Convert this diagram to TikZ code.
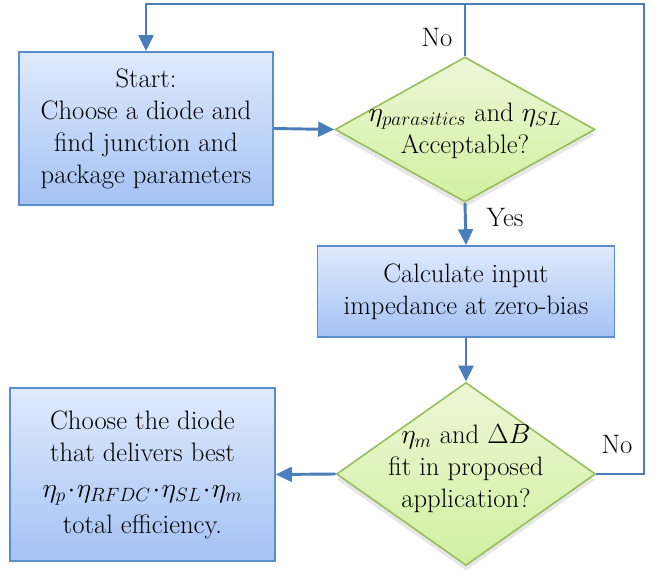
\documentclass[tikz,border=0pt]{standalone}
\usetikzlibrary{shapes.geometric,arrows.meta,shadows}
\definecolor{boxline}{RGB}{91,140,205}
\definecolor{boxtop}{RGB}{224,234,252}
\definecolor{boxbot}{RGB}{164,194,244}
\definecolor{dialine}{RGB}{150,190,90}
\definecolor{diatop}{RGB}{236,247,214}
\definecolor{diabot}{RGB}{210,240,160}
\definecolor{wire}{RGB}{74,126,187}
\begin{document}
\begin{tikzpicture}[x=0.75pt,y=-0.75pt]
            \tikzstyle{every node}=[font=\fontsize{20}{24}\selectfont]
            \tikzstyle{procbox}=[draw=boxline, line width=1.2pt, top color=boxtop, bottom color=boxbot, align=center, inner sep=0pt]
            \tikzstyle{decide}=[diamond, draw=dialine, line width=1.2pt, top color=diatop, bottom color=diabot, inner sep=0pt, drop shadow={opacity=0.2, shadow xshift=0pt, shadow yshift=-4pt}]
            \tikzstyle{wire}=[draw=wire, line width=2.2pt, -{Triangle[length=12pt,width=11pt]}]
            \useasboundingbox (0,0) rectangle (654,570);
            \node [procbox, minimum width=190.5pt, minimum height=114.75pt] (start) at (146,128.5) {Start:\\Choose a diode and\\find junction and\\package parameters};
            \node [decide, minimum width=195pt, minimum height=108.75pt] (d1) at (465,129.5) {};
            \node [align=center] (d1txt) at (465,131) {$\eta_{parasitics}$ and $\eta_{SL}$\\Acceptable?};
            \node [procbox, minimum width=222.75pt, minimum height=68.25pt] (calc) at (466,291.5) {Calculate input\\impedance at zero-bias};
            \node [decide, minimum width=194.25pt, minimum height=137.25pt] (d2) at (466,474) {};
            \node [align=center] (d2txt) at (466,469) {$\eta_{m}$ and $\Delta B$\\fit in proposed\\application?};
            \node [procbox, minimum width=198.75pt, minimum height=129.75pt] (pick) at (142.5,474.5) {Choose the diode\\that delivers best\\[3pt]$\eta_{p}\!\cdot\!\eta_{RFDC}\!\cdot\!\eta_{SL}\!\cdot\!\eta_{m}$\\[3pt]total efficiency.};
            \coordinate (rt) at (644,4);
            \draw [wire] (start.east) -- (d1.west);
            \draw [wire] (d1.south) -- (calc.north);
            \draw [wire] (calc.south) -- (d2.north);
            \draw [wire] (d2.west) -- (pick.east);
            \draw [wire] (d2.east) -| (rt) -| (start.north);
            \draw [wire, -] (d1.north) -- (d1.north |- rt);
            \node (no1) at (437,38) {No};
            \node (yes) at (505,218) {Yes};
            \node (no2) at (617,445) {No};
        \end{tikzpicture}
\end{document}
